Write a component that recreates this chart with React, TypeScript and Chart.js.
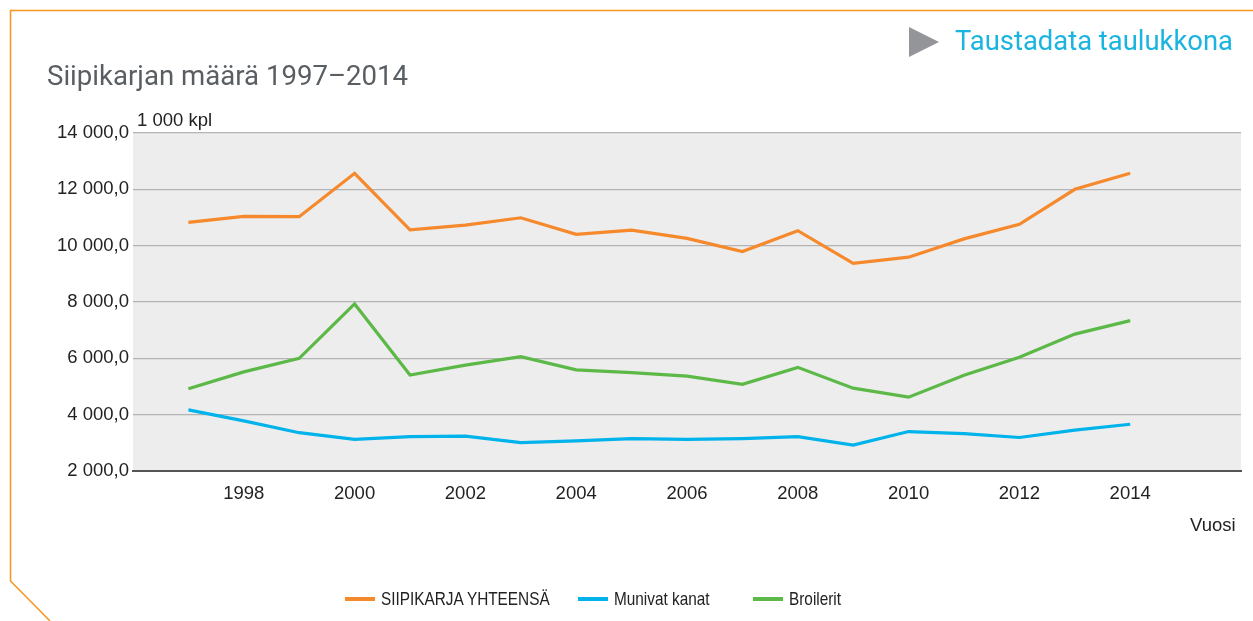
import React, { useEffect, useRef } from 'react';
import { Chart, registerables } from 'chart.js';

Chart.register(...registerables);

const years = [1997, 1998, 1999, 2000, 2001, 2002, 2003, 2004, 2005, 2006, 2007, 2008, 2009, 2010, 2011, 2012, 2013, 2014];
const siipikarjaYhteensa = [10830, 11040, 11030, 12570, 10560, 10730, 10990, 10400, 10550, 10260, 9790, 10530, 9370, 9590, 10240, 10760, 12000, 12570];
const munivatKanat = [4170, 3780, 3360, 3120, 3220, 3240, 3010, 3070, 3150, 3120, 3150, 3220, 2920, 3400, 3330, 3190, 3450, 3660];
const broilerit = [4920, 5520, 6000, 7930, 5410, 5760, 6060, 5590, 5490, 5370, 5080, 5680, 4940, 4620, 5400, 6040, 6860, 7340];
const seriesNames = ['SIIPIKARJA YHTEENSÄ', 'Munivat kanat', 'Broilerit'];
const seriesColors = ['#f5892c', '#00b3eb', '#5cb947'];
const yTickValues = [2000, 4000, 6000, 8000, 10000, 12000, 14000];
const xTickYears = [1998, 2000, 2002, 2004, 2006, 2008, 2010, 2012, 2014];

const TITLE = 'Siipikarjan määrä 1997–2014';
const LINK = 'Taustadata taulukkona';
const Y_UNIT = '1 000 kpl';
const X_TITLE = 'Vuosi';

function fmt(v: number): string {
  const s = Math.round(v).toString().replace(/\B(?=(\d{3})+(?!\d))/g, ' ');
  return s + ',0';
}

const bgPlugin = {
  id: 'plotBg',
  beforeDraw(chart: any) {
    const { ctx, chartArea } = chart;
    if (!chartArea) return;
    ctx.save();
    ctx.fillStyle = '#ededed';
    ctx.fillRect(chartArea.left, chartArea.top, chartArea.right - chartArea.left, chartArea.bottom - chartArea.top);
    ctx.restore();
  },
};

const TICK_FONT = { family: "'Liberation Sans', Arial, sans-serif", size: 18.5 };

export default function App() {
  const ref = useRef<HTMLCanvasElement | null>(null);

  useEffect(() => {
    document.body.style.margin = '0';
    const seriesValues = [siipikarjaYhteensa, munivatKanat, broilerit];
    const chart = new Chart(ref.current as HTMLCanvasElement, {
      type: 'line',
      data: {
        datasets: seriesValues.map((vals, i) => ({
          label: seriesNames[i],
          data: years.map((y, j) => ({ x: y, y: vals[j] })),
          borderColor: seriesColors[i],
          backgroundColor: seriesColors[i],
          borderWidth: 3.2,
          pointRadius: 0,
          tension: 0,
          fill: false,
        })),
      },
      options: {
        animation: false,
        responsive: false,
        devicePixelRatio: 1,
        layout: { padding: { top: 133, right: 12, left: 0, bottom: 0 } },
        plugins: { legend: { display: false }, tooltip: { enabled: false } },
        scales: {
          x: {
            type: 'linear',
            min: 1996,
            max: 2016,
            afterBuildTicks: (s: any) => {
              s.ticks = xTickYears.map((v) => ({ value: v }));
            },
            afterFit: (s: any) => {
              s.height = 150;
            },
            ticks: {
              font: TICK_FONT,
              color: '#222',
              padding: 12,
              autoSkip: false,
              maxRotation: 0,
              callback: (v: any) => String(v),
            },
            grid: { display: false, drawTicks: false },
            border: { display: true, color: '#555', width: 2 },
          },
          y: {
            type: 'linear',
            min: 2000,
            max: 14000,
            afterBuildTicks: (s: any) => {
              s.ticks = yTickValues.map((v) => ({ value: v }));
            },
            afterFit: (s: any) => {
              s.width = 133;
            },
            ticks: {
              font: TICK_FONT,
              color: '#222',
              padding: 4,
              callback: (v: any) => fmt(Number(v)),
            },
            grid: {
              drawTicks: false,
              lineWidth: 1.2,
              color: (c: any) => (c.tick && c.tick.value === 2000 ? 'rgba(0,0,0,0)' : '#b4b4b4'),
            },
            border: { display: false },
          },
        },
      },
      plugins: [bgPlugin],
    } as any);
    return () => chart.destroy();
  }, []);

  const legendLeft = [345, 578, 753];

  return (
    <div style={{ position: 'fixed', left: 0, top: 0, width: 1253, height: 621, background: '#fff', overflow: 'hidden' }}>
      <svg width={1253} height={621} style={{ position: 'absolute', left: 0, top: 0 }}>
        <polyline points="1253,10.5 10.5,10.5 10.5,581 50,621" fill="none" stroke="#f7941d" strokeWidth={1.5} />
        <polygon points="909,27 939,42 909,57" fill="#939598" />
      </svg>
      <canvas ref={ref} width={1253} height={621} style={{ position: 'absolute', left: 0, top: 0 }} />
      <div style={{ position: 'absolute', left: 47, top: 62, fontFamily: 'Roboto, sans-serif', fontSize: 27.6, lineHeight: '28px', color: '#595e63', whiteSpace: 'nowrap' }}>{TITLE}</div>
      <div style={{ position: 'absolute', left: 955, top: 28, fontFamily: 'Roboto, sans-serif', fontSize: 27.4, lineHeight: '27px', color: '#1ab4e0', whiteSpace: 'nowrap' }}>{LINK}</div>
      <div style={{ position: 'absolute', left: 137, top: 111, fontFamily: "'Liberation Sans', Arial, sans-serif", fontSize: 18.5, lineHeight: '18.5px', color: '#222', whiteSpace: 'nowrap' }}>{Y_UNIT}</div>
      <div style={{ position: 'absolute', left: 1190, top: 516, fontFamily: "'Liberation Sans', Arial, sans-serif", fontSize: 18.5, lineHeight: '18.5px', color: '#222', whiteSpace: 'nowrap' }}>{X_TITLE}</div>
      {seriesNames.map((name, i) => (
        <div key={name} style={{ position: 'absolute', left: legendLeft[i], top: 589, height: 20, display: 'flex', alignItems: 'center', whiteSpace: 'nowrap' }}>
          <span style={{ display: 'inline-block', width: 30, height: 4, background: seriesColors[i], marginRight: 6 }} />
          <span style={{ display: 'inline-block', transform: 'scaleX(0.83)', transformOrigin: 'left center', fontFamily: "'Liberation Sans', Arial, sans-serif", fontSize: 18.5, lineHeight: '20px', color: '#222' }}>{name}</span>
        </div>
      ))}
    </div>
  );
}
